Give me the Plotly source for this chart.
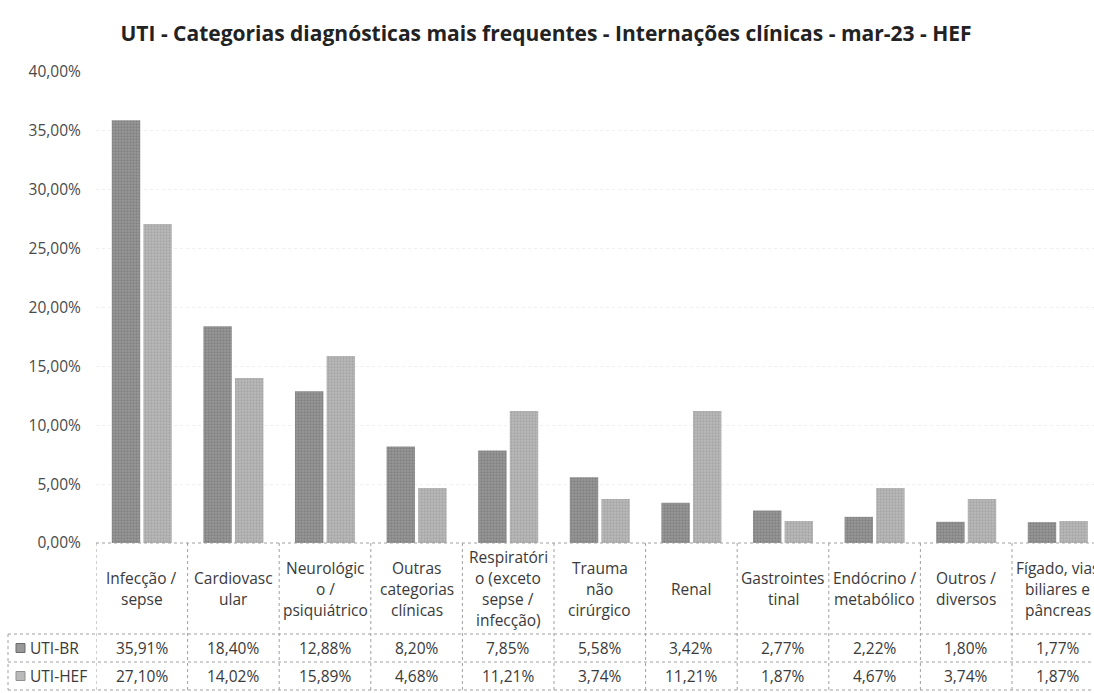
import plotly.graph_objects as go

# Diagnostic categories (line breaks as they wrap in the data table)
categories = [
    "Infecção /<br>sepse",
    "Cardiovasc<br>ular",
    "Neurológic<br>o /<br>psiquiátrico",
    "Outras<br>categorias<br>clínicas",
    "Respiratóri<br>o (exceto<br>sepse /<br>infecção)",
    "Trauma<br>não<br>cirúrgico",
    "Renal",
    "Gastrointes<br>tinal",
    "Endócrino /<br>metabólico",
    "Outros /<br>diversos",
    "Fígado, vias<br>biliares e<br>pâncreas",
]

series_names = ["UTI-BR", "UTI-HEF"]
uti_br = [35.91, 18.40, 12.88, 8.20, 7.85, 5.58, 3.42, 2.77, 2.22, 1.80, 1.77]
uti_hef = [27.10, 14.02, 15.89, 4.68, 11.21, 3.74, 11.21, 1.87, 4.67, 3.74, 1.87]

y_ticks = [0, 5, 10, 15, 20, 25, 30, 35, 40]

FONT = "Open Sans"
TEXT = "#3a3a3a"
GRID = "#efefef"
TABLE_LINE = "#a0a0a0"
FS = 15.5

W, H = 1094, 693
M_L, M_T, M_B = 96, 72, 150
PLOT_W = W - M_L
PLOT_H = H - M_T - M_B
COL_W = 91.6  # pixel width of one category column
LINE_H = 21   # line pitch inside the header cells

def py(px):
    """pixel row -> paper y"""
    return (H - M_B - px) / PLOT_H

def px_x(px):
    """pixel column -> paper x"""
    return (px - M_L) / PLOT_W

def fmt(v):
    return f"{v:.2f}%".replace(".", ",")

x_idx = list(range(len(categories)))

styles = {
    "UTI-BR": dict(color="#989898", fg="#6a6a6a"),
    "UTI-HEF": dict(color="#bababa", fg="#909090"),
}

fig = go.Figure()
for name, vals in zip(series_names, [uti_br, uti_hef]):
    st = styles[name]
    fig.add_trace(go.Bar(
        x=x_idx, y=vals, name=name,
        marker=dict(
            color=st["color"], line=dict(width=0),
            pattern=dict(shape=".", size=3, solidity=0.45, fgcolor=st["fg"]),
        ),
        hoverinfo="skip",
    ))

shapes = []
annotations = []

# table geometry (pixels)
HEAD_TOP, HEAD_BOT, ROW1_BOT, ROW2_BOT = H - M_B, 634, 662, 690
LEFT_EDGE = 8

# vertical column separators
for i in range(len(categories) + 1):
    shapes.append(dict(type="line", xref="x", yref="paper",
                       x0=i - 0.5, x1=i - 0.5, y0=py(HEAD_TOP), y1=py(ROW2_BOT),
                       line=dict(color=TABLE_LINE, width=1, dash="dot")))
# left border of the series-name column
shapes.append(dict(type="line", xref="paper", yref="paper",
                   x0=px_x(LEFT_EDGE), x1=px_x(LEFT_EDGE), y0=py(HEAD_BOT), y1=py(ROW2_BOT),
                   line=dict(color=TABLE_LINE, width=1, dash="dot")))
# top border of the table / category axis line
shapes.append(dict(type="line", xref="paper", yref="paper",
                   x0=0, x1=1.02, y0=0, y1=0,
                   line=dict(color=TABLE_LINE, width=1, dash="dot")))
# horizontal row separators
for yy in [HEAD_BOT, ROW1_BOT, ROW2_BOT]:
    shapes.append(dict(type="line", xref="paper", yref="paper",
                       x0=px_x(LEFT_EDGE), x1=1.02, y0=py(yy), y1=py(yy),
                       line=dict(color=TABLE_LINE, width=1, dash="dot")))

# category header labels, one annotation per wrapped line
head_mid = (HEAD_TOP + HEAD_BOT) / 2
for i, cat in enumerate(categories):
    lines = cat.split("<br>")
    n = len(lines)
    for k, ln in enumerate(lines):
        cy = head_mid + (k - (n - 1) / 2) * LINE_H
        annotations.append(dict(x=i, y=py(cy), xref="x", yref="paper",
                                text=ln, showarrow=False, xanchor="center", yanchor="middle",
                                font=dict(family=FONT, size=FS, color=TEXT)))

# data rows: legend key, series name, values
rows = [(uti_br, (HEAD_BOT + ROW1_BOT) / 2), (uti_hef, (ROW1_BOT + ROW2_BOT) / 2)]
for name, (vals, cy) in zip(series_names, rows):
    st = styles[name]
    shapes.append(dict(type="rect", xref="paper", yref="paper",
                       x0=px_x(16), x1=px_x(25), y0=py(cy - 4.5), y1=py(cy + 4.5),
                       fillcolor=st["color"], line=dict(color=st["fg"], width=1)))
    annotations.append(dict(x=px_x(28), y=py(cy), xref="paper", yref="paper",
                            text=name, showarrow=False, xanchor="left", yanchor="middle",
                            font=dict(family=FONT, size=FS, color=TEXT)))
    for i, v in enumerate(vals):
        annotations.append(dict(x=i, y=py(cy), xref="x", yref="paper",
                                text=fmt(v), showarrow=False, xanchor="center", yanchor="middle",
                                font=dict(family=FONT, size=FS, color=TEXT)))

x_span = PLOT_W / COL_W

fig.update_layout(
    width=W, height=H,
    margin=dict(l=M_L, r=0, t=M_T, b=M_B, pad=0),
    paper_bgcolor="white", plot_bgcolor="white",
    barmode="group", bargap=0.31, bargroupgap=0.1,
    showlegend=False,
    title=dict(text="<b>UTI - Categorias diagnósticas mais frequentes - Internações clínicas - mar-23 - HEF</b>",
               x=546 / W, xref="container", xanchor="center", y=1 - 34 / H, yanchor="middle",
               font=dict(family=FONT, size=21, color="#222222")),
    xaxis=dict(range=[-0.5, -0.5 + x_span], showticklabels=False, ticks="",
               showgrid=False, zeroline=False, showline=False, fixedrange=True),
    yaxis=dict(range=[0, 40], tickvals=y_ticks, ticktext=[fmt(t) for t in y_ticks],
               showgrid=True, gridcolor=GRID, griddash="dot", gridwidth=1,
               zeroline=False, showline=False,
               ticks="outside", ticklen=11, tickcolor="rgba(0,0,0,0)",
               tickfont=dict(family=FONT, size=FS, color="#4a4a4a")),
    shapes=shapes,
    annotations=annotations,
)

fig.write_html("out.html")
